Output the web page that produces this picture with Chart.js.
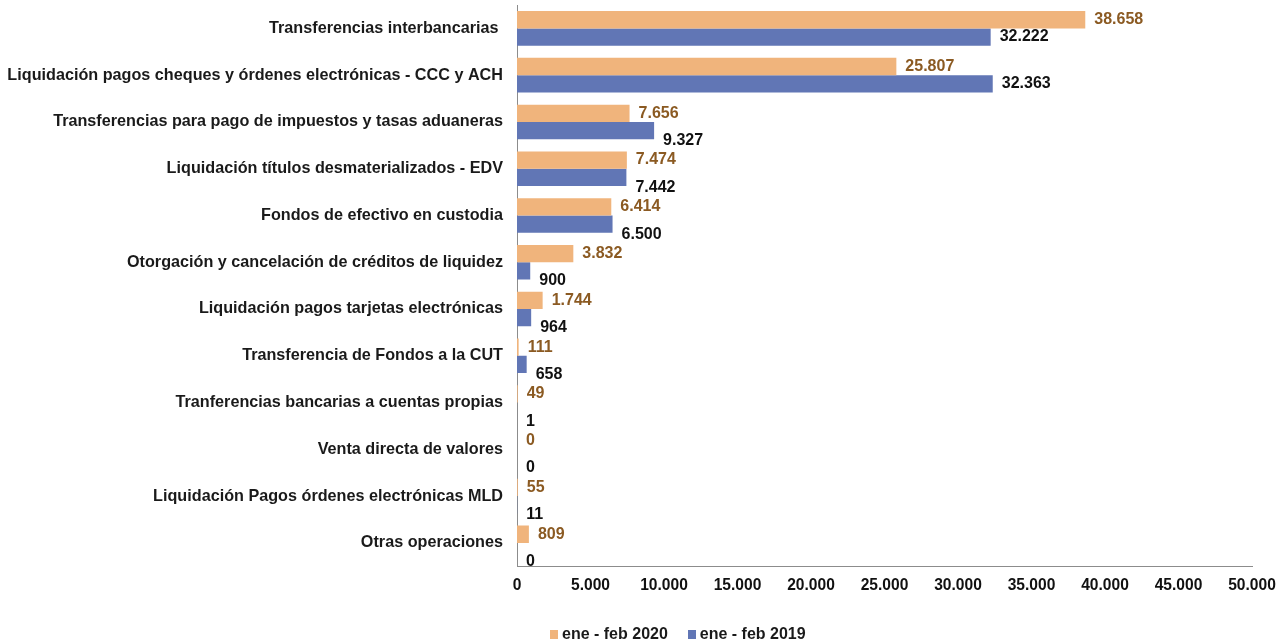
<!DOCTYPE html>
<html>
<head>
<meta charset="utf-8">
<script src="https://cdn.jsdelivr.net/npm/chart.js@4.4.1/dist/chart.umd.min.js"></script>
<style>
  html, body { margin: 0; padding: 0; background: #fff; }
  #wrap { position: relative; width: 1287px; height: 644px; }
  #legend {
    position: absolute; top: 625px; left: 550px;
    font: bold 16px "Liberation Sans", Arial, sans-serif; color: #1a1a1a;
    display: flex; gap: 20px; white-space: nowrap;
  }
  #legend span.sw { display: inline-block; width: 8px; height: 9px; margin-right: 4px; }
</style>
</head>
<body>
<div id="wrap">
  <canvas id="c" width="1287" height="644"></canvas>
  <div id="legend"></div>
</div>
<script>
// ── DATA ────────────────────────────────────────────────────────────────────────

const categories = [
  'Transferencias interbancarias ',
  'Liquidación pagos cheques y órdenes electrónicas - CCC y ACH',
  'Transferencias para pago de impuestos y tasas aduaneras',
  'Liquidación títulos desmaterializados - EDV',
  'Fondos de efectivo en custodia',
  'Otorgación y cancelación de créditos de liquidez',
  'Liquidación pagos tarjetas electrónicas',
  'Transferencia de Fondos a la CUT',
  'Tranferencias bancarias a cuentas propias',
  'Venta directa de valores',
  'Liquidación Pagos órdenes electrónicas MLD',
  'Otras operaciones'
];
const seriesNames = ['ene - feb 2020', 'ene - feb 2019'];
const values2020 = [38658, 25807, 7656, 7474, 6414, 3832, 1744, 111, 49, 0, 55, 809];
const values2019 = [32222, 32363, 9327, 7442, 6500, 900, 964, 658, 1, 0, 11, 0];
const xMax = 50000;
const xStep = 5000;

// ── STYLE ───────────────────────────────────────────────────────────────────────

const ORANGE = '#F0B47C';
const BLUE = '#6176B5';
const LABEL_COLORS = ['#8B5A22', '#111111'];
const FONT = '"Liberation Sans", Arial, sans-serif';

const fmt = v => String(v).replace(/\B(?=(\d{3})+(?!\d))/g, '.');

// value labels at the end of each bar
const valueLabels = {
  id: 'valueLabels',
  afterDatasetsDraw(chart) {
    const ctx = chart.ctx;
    ctx.save();
    ctx.font = 'bold 16px ' + FONT;
    ctx.textBaseline = 'middle';
    ctx.textAlign = 'left';
    chart.data.datasets.forEach((ds, di) => {
      const meta = chart.getDatasetMeta(di);
      ctx.fillStyle = LABEL_COLORS[di];
      meta.data.forEach((bar, i) => {
        // lower series labels sit a little below the bar once the bars get short
        const dy = (di === 1 && i >= 2) ? 10 : 0;
        ctx.fillText(fmt(ds.data[i]), bar.x + 9, bar.y + dy);
      });
    });
    ctx.restore();
  }
};

// ── CHART ───────────────────────────────────────────────────────────────────────

const chart = new Chart(document.getElementById('c').getContext('2d'), {
  type: 'bar',
  data: {
    labels: categories,
    datasets: [
      { label: seriesNames[0], data: values2020, backgroundColor: ORANGE },
      { label: seriesNames[1], data: values2019, backgroundColor: BLUE }
    ]
  },
  options: {
    indexAxis: 'y',
    responsive: false,
    animation: false,
    datasets: { bar: { categoryPercentage: 0.74, barPercentage: 1.0 } },
    layout: { padding: { top: 5, right: 35, bottom: 39, left: 0 } },
    plugins: {
      legend: { display: false },
      tooltip: { enabled: false }
    },
    scales: {
      x: {
        min: 0,
        max: xMax,
        ticks: {
          stepSize: xStep,
          color: '#111',
          font: { family: FONT, size: 15.6, weight: 'bold' },
          padding: 10,
          callback: v => fmt(v)
        },
        grid: { display: false, drawTicks: false },
        border: { color: '#8C8C8C', width: 1 }
      },
      y: {
        ticks: {
          color: '#1a1a1a',
          font: { family: FONT, size: 16.2, weight: 'bold' },
          padding: 14
        },
        grid: { display: false, drawTicks: false },
        border: { color: '#8C8C8C', width: 1 },
        // labels sit mid-category, so no extra room above/below is needed
        afterFit(scale) { scale.paddingTop = 0; scale.paddingBottom = 0; scale.width = 517; }
      }
    }
  },
  plugins: [valueLabels]
});

// legend
document.getElementById('legend').innerHTML = seriesNames.map((n, i) =>
  `<span><span class="sw" style="background:${i === 0 ? ORANGE : BLUE}"></span>${n}</span>`
).join('');
</script>
</body>
</html>
